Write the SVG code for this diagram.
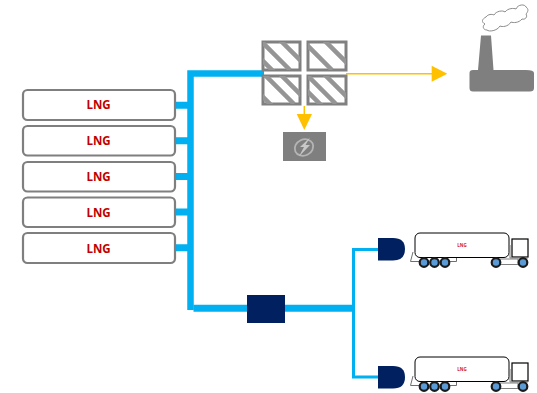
<svg xmlns="http://www.w3.org/2000/svg" width="537" height="393" viewBox="0 0 537 393">
<style>
.tank{fill:#fff;stroke:#7f7f7f;stroke-width:2.2}
.lbl{font:bold 11.5px "Open Sans","Liberation Sans",sans-serif;fill:#c00000;text-anchor:middle}
.pipe{fill:none;stroke:#00b0f0;stroke-linejoin:miter}
.y{fill:none;stroke:#ffc000}
.panel{fill:#fff;stroke:#808080;stroke-width:3}
.st{stroke:#959595;stroke-width:4.500;fill:none}
.navy{fill:#002060}
.truck{fill:#fff;stroke:#000;stroke-width:1}
.wh{fill:#5b9bd5;stroke:#1a1a1a;stroke-width:2.2}
.tl{font:bold 4.500px "Open Sans","Liberation Sans",sans-serif;fill:#d01c1c;text-anchor:middle}
</style>
<defs>
<clipPath id="c1"><rect x="263" y="42" width="37" height="28"/></clipPath>
<clipPath id="c2"><rect x="308" y="42" width="38" height="28"/></clipPath>
<clipPath id="c3"><rect x="263" y="76" width="37" height="28"/></clipPath>
<clipPath id="c4"><rect x="308" y="76" width="38" height="28"/></clipPath>
<g id="truck">
<path d="M413 252L410.500 261.500H422M450 261.500H456.500V258" fill="none" stroke="#6f6f6f"/>
<rect class="truck" x="415" y="233" width="94" height="24.500" rx="5"/>
<rect class="truck" x="512" y="239" width="16" height="18" style="stroke-width:1.200"/>
<rect x="500" y="259" width="18" height="5.500" fill="#fff" stroke="#7f7f7f"/>
<path d="M510 245V258H528" fill="none" stroke="#7f7f7f"/>
<circle class="wh" cx="424" cy="262.500" r="4.300"/><circle class="wh" cx="434.500" cy="262.500" r="4.300"/><circle class="wh" cx="445" cy="262.500" r="4.300"/>
<circle class="wh" cx="496" cy="262.500" r="4.300"/><circle class="wh" cx="523" cy="262.500" r="4.300"/>
<text class="tl" x="462" y="247">LNG</text>
</g>
</defs>
<g id="connectors">
<path class="pipe" stroke-width="6.500" d="M190.500 310V73.500H264"/>
<path class="pipe" stroke-width="7" d="M193.500 308.300H352"/>
<path class="pipe" stroke-width="3" d="M379 249.500H353.500V377H379"/>
<path class="pipe" stroke-width="7" d="M175 105.300H188M175 140.800H188M175 176.500H188M175 212H188M175 247.800H188"/>
<path class="y" stroke-width="1.500" d="M346 73.700H434"/>
<path fill="#ffc000" d="M431.700 65.700L447.300 73.700L431.700 81.700Z"/>
<path class="y" stroke-width="1.500" d="M304.300 106V116"/>
<path fill="#ffc000" d="M296.700 114H312L304.300 130Z"/>
</g>
<g id="lng1"><rect class="tank" x="23" y="90" width="152" height="30" rx="4.500"/><text class="lbl" x="98.500" y="109">LNG</text></g>
<g id="lng2"><rect class="tank" x="23" y="126" width="152" height="29.500" rx="4.500"/><text class="lbl" x="98.500" y="145">LNG</text></g>
<g id="lng3"><rect class="tank" x="23" y="162" width="152" height="29.500" rx="4.500"/><text class="lbl" x="98.500" y="181">LNG</text></g>
<g id="lng4"><rect class="tank" x="23" y="197.500" width="152" height="29.500" rx="4.500"/><text class="lbl" x="98.500" y="216.500">LNG</text></g>
<g id="lng5"><rect class="tank" x="23" y="233" width="152" height="30" rx="4.500"/><text class="lbl" x="98.500" y="252.500">LNG</text></g>
<g id="panel1"><rect class="panel" x="263" y="42" width="37" height="28"/><g clip-path="url(#c1)"><path class="st" d="M262 42L290 70M278 38L310 70M258 56L274 72"/></g></g>
<g id="panel2"><rect class="panel" x="308" y="42" width="38" height="28"/><g clip-path="url(#c2)"><path class="st" d="M304 42L332 70M322 38L354 70"/></g></g>
<g id="panel3"><rect class="panel" x="263" y="76" width="37" height="28"/><g clip-path="url(#c3)"><path class="st" d="M262 72L294 104M278 72L310 104M258 92L272 106"/></g></g>
<g id="panel4"><rect class="panel" x="308" y="76" width="38" height="28"/><g clip-path="url(#c4)"><path class="st" d="M304 72L336 104M322 72L354 104M304 88L322 106"/></g></g>
<g id="generator">
<rect x="283" y="132" width="43" height="29" fill="#7f7f7f"/>
<ellipse cx="304" cy="147.500" rx="9.500" ry="8" fill="none" stroke="#b5b5b5" stroke-width="1.800" transform="rotate(-25 304 147.500)"/>
<path fill="#c8c8c8" d="M310 137.500L300 147H304L299 156.500L310 145H305.500Z"/>
</g>
<g id="factory">
<path fill="#7f7f7f" d="M481 35.500H491L493.500 70H526Q534 70 534 73V88Q534 91.500 530 91.500H473Q469.500 91.500 469.500 88V73Q469.500 70 473 70H478Z"/>
<path fill="#fff" stroke="#8c8c8c" d="M485 24C481 22 482 19 486 17C488 14 492 14 494 15C496 11 503 10 505 12C508 8 514 8 516 9C518 4 525 4 526 7C529 9 528 12 526 14C528 17 525 20 522 19C519 23 513 23 511 22C508 27 502 27 500 26C497 31 489 32 487 30C483 30 482 26 485 24Z"/>
</g>
<g id="mixer"><rect class="navy" x="247" y="295" width="38" height="28"/></g>
<g id="dispenser1"><path class="navy" d="M378 238H393Q405 238 405 249Q405 260.500 393 260.500H378Z"/></g>
<g id="dispenser2"><path class="navy" d="M378 366H393Q405 366 405 377Q405 388.500 393 388.500H378Z"/></g>
<g id="truck1"><use href="#truck"/></g>
<g id="truck2"><use href="#truck" y="124"/></g>
</svg>
